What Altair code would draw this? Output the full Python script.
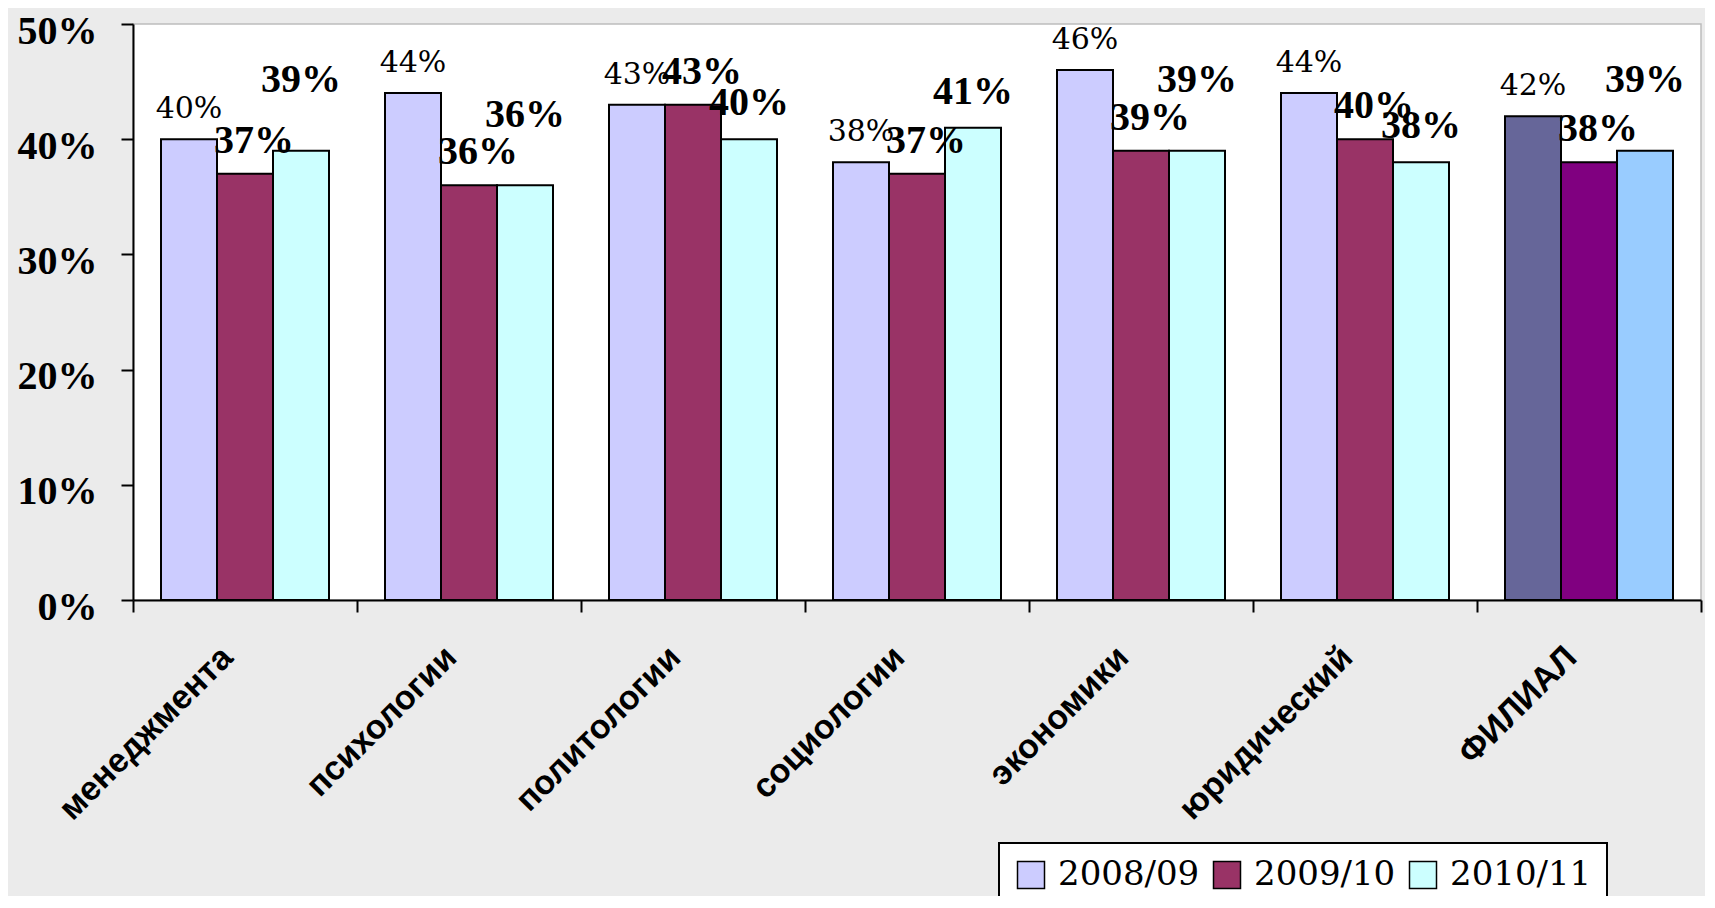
import altair as alt
import pandas as pd

categories = ["менеджмента", "психологии", "политологии", "социологии",
              "экономики", "юридический", "ФИЛИАЛ"]
years = ["2008/09", "2009/10", "2010/11"]
v2008 = [40, 44, 43, 38, 46, 44, 42]
v2009 = [37, 36, 43, 37, 39, 40, 38]
v2010 = [39, 36, 40, 41, 39, 38, 39]
colors_main = ["#CCCCFF", "#993366", "#CCFFFF"]
colors_total = ["#666699", "#800080", "#99CCFF"]
y_ticks = [0, 10, 20, 30, 40, 50]
total_name = "ФИЛИАЛ"

SERIF_BOLD = "Liberation Serif"
SERIF_REG = "DejaVu Serif"

rows = []
series = [v2008, v2009, v2010]
for i, c in enumerate(categories):
    for j, (yr, vals) in enumerate(zip(years, series)):
        key = yr if c != total_name else total_name + " " + yr
        # lift the last label when it would collide with its neighbour's label
        lift = 3 if (j == 2 and 0 <= v2010[i] - v2009[i] <= 2) else 0
        rows.append({"cat": c, "year": yr, "value": vals[i], "key": key,
                     "label": f"{vals[i]}%", "label_y": vals[i] + lift})
df = pd.DataFrame(rows)

color_domain = years + [total_name + " " + y for y in years]
color_range = colors_main + colors_total

x_enc = alt.X(
    "cat:N", sort=categories,
    scale=alt.Scale(paddingInner=0, paddingOuter=0),
    axis=alt.Axis(
        title=None, labelAngle=-45, labelAlign="right", labelBaseline="middle",
        labelFont="Liberation Sans", labelFontWeight="bold", labelFontSize=34,
        labelColor="black", labelPadding=40, labelOffset=-18, labelLimit=400,
        tickBand="extent", tickSize=12, tickWidth=2, tickColor="black",
        domainColor="black", domainWidth=2, grid=False,
    ),
)
xoff_enc = alt.XOffset(
    "year:N", sort=years,
    scale=alt.Scale(domain=years, paddingOuter=0.5, paddingInner=0),
)
y_scale = alt.Scale(domain=[0, 50], nice=False)
y_enc = alt.Y(
    "value:Q",
    scale=y_scale,
    axis=alt.Axis(
        title=None, values=y_ticks, labelExpr="datum.value + '%'", grid=False,
        domainColor="black", domainWidth=2, tickColor="black", tickWidth=2,
        tickSize=12, labelFont=SERIF_BOLD, labelFontWeight="bold",
        labelFontSize=40, labelColor="black", labelPadding=24, labelOffset=7,
    ),
)
y_lab = alt.Y("label_y:Q", scale=y_scale)

base = alt.Chart(df)

bars = base.mark_bar(stroke="black", strokeWidth=2).encode(
    x=x_enc,
    xOffset=xoff_enc,
    y=y_enc,
    color=alt.Color(
        "key:N",
        scale=alt.Scale(domain=color_domain, range=color_range),
        legend=alt.Legend(
            title=None, values=years, orient="none", legendX=866, legendY=819,
            direction="horizontal", fillColor="white", strokeColor="black",
            padding=15, symbolType="square", symbolSize=729,
            symbolStrokeColor="black", symbolStrokeWidth=1.5,
            labelFont=SERIF_REG, labelFontSize=34, labelColor="black",
            labelOffset=10, columnPadding=10, labelLimit=400,
        ),
    ),
)

lab1 = base.transform_filter(alt.datum.year == years[0]).mark_text(
    font=SERIF_REG, fontSize=30, baseline="alphabetic", dy=-21,
    color="black",
).encode(x=x_enc, xOffset=xoff_enc, y=y_lab, text="label:N")

lab2 = base.transform_filter(alt.datum.year == years[1]).mark_text(
    font=SERIF_BOLD, fontSize=40, fontWeight="bold",
    baseline="alphabetic", dy=-21, dx=9, color="black",
).encode(x=x_enc, xOffset=xoff_enc, y=y_lab, text="label:N")

lab3 = base.transform_filter(alt.datum.year == years[2]).mark_text(
    font=SERIF_BOLD, fontSize=40, fontWeight="bold",
    baseline="alphabetic", dy=-24, color="black",
).encode(x=x_enc, xOffset=xoff_enc, y=y_lab, text="label:N")

chart = alt.layer(bars, lab1, lab2, lab3).properties(
    width=1568, height=576,
    padding={"left": 125, "top": 16, "right": 4, "bottom": 296},
    autosize="none",
).configure(background="#ebebeb").configure_view(
    fill="white", stroke="#bdbdbd", strokeWidth=1.5
).configure_legend(strokeWidth=2)

chart.save("out.html", embed_options={"renderer": "svg", "actions": False})
